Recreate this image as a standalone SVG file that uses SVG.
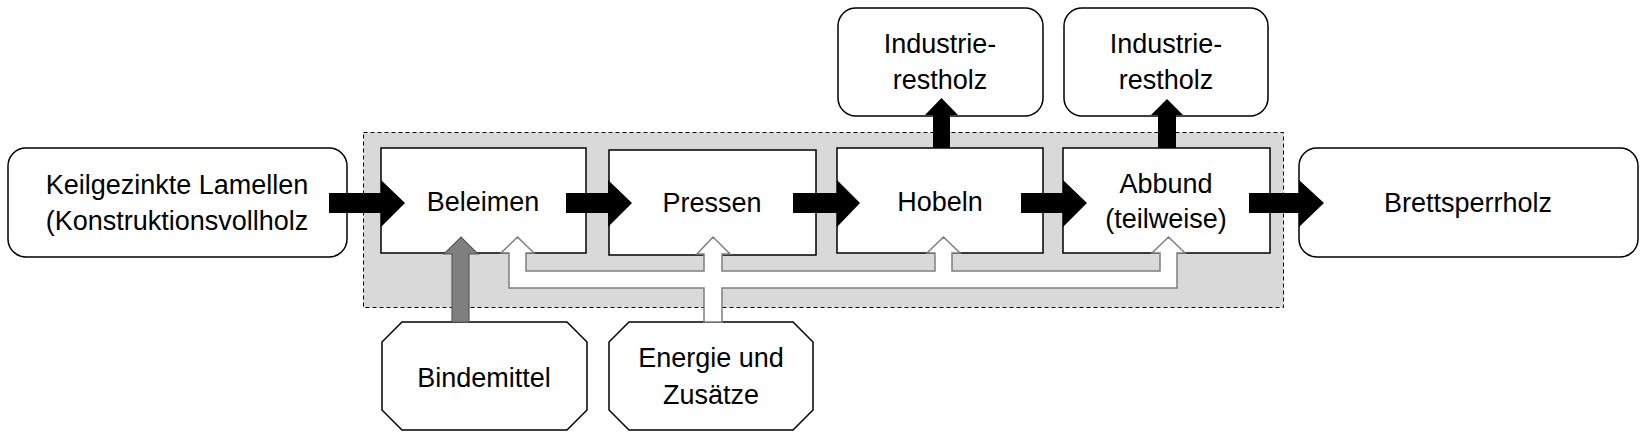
<svg xmlns="http://www.w3.org/2000/svg" width="1648" height="440" viewBox="0 0 1648 440">
<style>
text{font-family:"Liberation Sans",Arial,sans-serif;font-size:27px;fill:#000;text-anchor:middle}
.box{fill:#fff;stroke:#000;stroke-width:1.5}
.flow{fill:#000;stroke:none}
.white{fill:#fff;stroke:#7f7f7f;stroke-width:1.5;stroke-linejoin:miter}
.grey{fill:#7f7f7f;stroke:#595959;stroke-width:1.2}
</style>
<rect x="0" y="0" width="1648" height="440" fill="#fff"/>
<rect id="system" x="363.5" y="132.5" width="920" height="175" fill="#d9d9d9" stroke="#000" stroke-width="1" stroke-dasharray="4 3"/>

<g id="n-keil"><rect class="box" x="8" y="148" width="339" height="109" rx="18"/><text x="177" y="194">Keilgezinkte Lamellen</text><text x="177" y="230">(Konstruktionsvollholz</text></g>
<g id="n-beleimen"><rect class="box" x="381" y="148" width="205" height="105"/><text x="483" y="211">Beleimen</text></g>
<g id="n-pressen"><rect class="box" x="609" y="150" width="207" height="105"/><text x="712" y="212">Pressen</text></g>
<g id="n-hobeln"><rect class="box" x="837" y="148" width="206" height="105"/><text x="940" y="211">Hobeln</text></g>
<g id="n-abbund"><rect class="box" x="1063" y="148" width="207" height="105"/><text x="1166" y="193">Abbund</text><text x="1166" y="228">(teilweise)</text></g>
<g id="n-brett"><rect class="box" x="1299" y="148" width="339" height="109" rx="18"/><text x="1468" y="212">Brettsperrholz</text></g>
<g id="n-rest1"><rect class="box" x="838" y="8" width="205" height="108" rx="18"/><text x="940" y="53">Industrie-</text><text x="940" y="89">restholz</text></g>
<g id="n-rest2"><rect class="box" x="1064" y="8" width="204" height="108" rx="18"/><text x="1166" y="53">Industrie-</text><text x="1166" y="89">restholz</text></g>
<g id="n-binde"><polygon class="box" points="402,322 567,322 587,342 587,410 567,430 402,430 382,410 382,342"/><text x="484" y="387">Bindemittel</text></g>
<g id="n-energie"><polygon class="box" points="629,322 793,322 813,342 813,410 793,430 629,430 609,410 609,342"/><text x="711" y="367">Energie und</text><text x="711" y="404">Zusätze</text></g>

<g id="connectors">
<polygon class="flow" points="329,193 381,193 381,180 405,203 381,227 381,213 329,213"/>
<polygon class="flow" points="566,193 608,193 608,180 632,203 608,227 608,213 566,213"/>
<polygon class="flow" points="793,193 837,193 837,180 860,203 837,227 837,213 793,213"/>
<polygon class="flow" points="1021,193 1063,193 1063,180 1087,203 1063,227 1063,213 1021,213"/>
<polygon class="flow" points="1249,193 1299,193 1299,180 1324,203 1299,227 1299,213 1249,213"/>
<polygon class="flow" points="933,148 933,115 925,115 941.5,98 958,115 950,115 950,148"/>
<polygon class="flow" points="1158,148 1158,115 1151,115 1167,99 1183,115 1176,115 1176,148"/>
<polygon class="grey" points="452,322 452,254 444,254 461,237 478,254 469,254 469,322"/>
<polygon class="white" points="517.5,237 534,253 526,253 526,271 704,271 704,254 697,254 713,237 730,254 722,254 722,271 935,271 935,253 927,253 943.5,237 960,253 952,253 952,271 1160,271 1160,253 1152,253 1168.5,237 1185,253 1177,253 1177,288 722,288 722,322 704,322 704,288 509,288 509,253 501,253"/>
</g>
</svg>
